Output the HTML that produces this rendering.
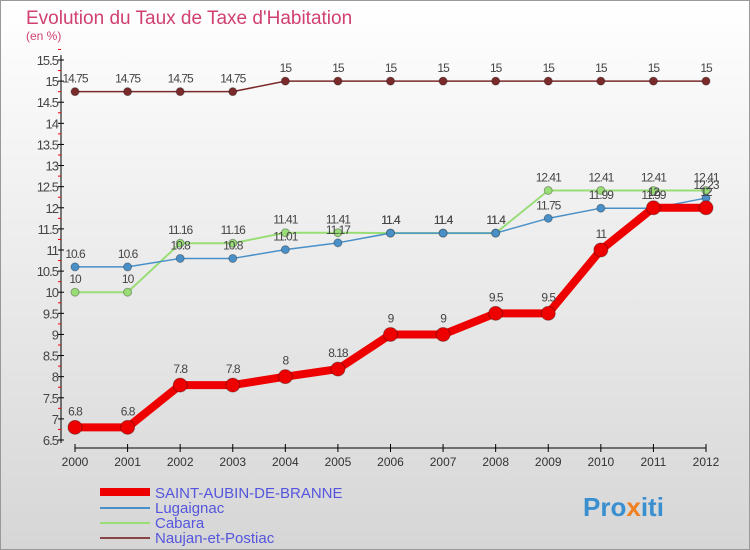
<!DOCTYPE html>
<html><head><meta charset="utf-8"><style>
body{margin:0}
svg{display:block;font-family:"Liberation Sans",sans-serif}
</style></head><body>
<svg id="c" width="750" height="550">
<defs><linearGradient id="bg" x1="0" y1="0" x2="0" y2="1"><stop offset="0" stop-color="#ffffff"/><stop offset="1" stop-color="#d6d6d6"/></linearGradient></defs>
<rect x="0.5" y="0.5" width="749" height="549" fill="url(#bg)" stroke="#999"/>
<text x="26" y="24" font-size="19" fill="#d04070">Evolution du Taux de Taxe d'Habitation</text>
<text x="26" y="40" font-size="12" fill="#d04070">(en %)</text>
<g id="axes"></g><g id="series"></g>
<g>
<line x1="100" y1="492" x2="150" y2="492" stroke="#ee0000" stroke-width="8"/>
<text x="155" y="498" font-size="15" fill="#5555dd">SAINT-AUBIN-DE-BRANNE</text>
<line x1="100" y1="508" x2="150" y2="508" stroke="#4a90c8" stroke-width="2"/>
<text x="155" y="513" font-size="15" fill="#5555dd">Lugaignac</text>
<line x1="100" y1="523" x2="150" y2="523" stroke="#99dd77" stroke-width="2"/>
<text x="155" y="528" font-size="15" fill="#5555dd">Cabara</text>
<line x1="100" y1="538" x2="150" y2="538" stroke="#884444" stroke-width="2"/>
<text x="155" y="543" font-size="15" fill="#5555dd">Naujan-et-Postiac</text>
</g>
<text x="583" y="516" font-size="26" font-weight="bold" fill="#3a8fd0">Pro<tspan fill="#f08020">x</tspan>iti</text>
</svg>
<script>
const years=[2000,2001,2002,2003,2004,2005,2006,2007,2008,2009,2010,2011,2012];
const naujan=[14.75,14.75,14.75,14.75,15,15,15,15,15,15,15,15,15];
const cabara=[10,10,11.16,11.16,11.41,11.41,11.4,11.4,11.4,12.41,12.41,12.41,12.41];
const lugaignac=[10.6,10.6,10.8,10.8,11.01,11.17,11.4,11.4,11.4,11.75,11.99,11.99,12.23];
const saint=[6.8,6.8,7.8,7.8,8,8.18,9,9,9.5,9.5,11,12,12];
const yTicks=[6.5,7,7.5,8,8.5,9,9.5,10,10.5,11,11.5,12,12.5,13,13.5,14,14.5,15,15.5];
const NS="http://www.w3.org/2000/svg";
const X=i=>75+i*(706-75)/(years.length-1);
const Y=v=>440-(v-6.5)*380/9;
function mk(p,t,a){const e=document.createElementNS(NS,t);for(const k in a)e.setAttribute(k,a[k]);p.appendChild(e);return e;}
const ax=document.getElementById('axes');
let yl=mk(ax,'line',{x1:61,y1:55,x2:61,y2:443,stroke:'#000'});


yTicks.forEach(v=>{
 mk(ax,'line',{x1:58,x2:64,y1:Y(v),y2:Y(v),stroke:'#000'});
 mk(ax,'line',{x1:58,x2:61,y1:Y(v+0.25),y2:Y(v+0.25),stroke:'#e00'});
 const t=mk(ax,'text',{x:58,y:Y(v)+5,'text-anchor':'end','font-size':13,fill:'#444','letter-spacing':'-1'});
 t.textContent=v;
 
 
});
let xl=mk(ax,'line',{x1:75,y1:448,x2:706,y2:448,stroke:'#000'});


years.forEach((y,i)=>{
 mk(ax,'line',{x1:X(i),x2:X(i),y1:444,y2:452,stroke:'#000'});
 const t=mk(ax,'text',{x:X(i),y:466,'text-anchor':'middle','font-size':12,fill:'#333'});
 t.textContent=y;
 
 
});
const sg=document.getElementById('series');
function series(vals,color,w,r,name,dy){
 const g=mk(sg,'g',{});
 
 
 mk(g,'polyline',{points:vals.map((v,i)=>X(i)+','+Y(v)).join(' '),fill:'none',stroke:color,'stroke-width':w,'stroke-linejoin':'round'});
 vals.forEach((v,i)=>{
  const c=mk(g,'circle',{cx:X(i),cy:Y(v),r:r,fill:color,stroke:'rgba(0,0,0,0.3)'});
  
  
  const t=mk(g,'text',{x:X(i),y:Y(v)+dy,'text-anchor':'middle','font-size':12,fill:'#444','letter-spacing':'-1'});
  t.textContent=v;
  
  
 });
}
series(naujan,'#7a2a2a',1.5,4,'series-naujan',-17+8);
series(cabara,'#99dd77',2,4,'series-cabara',-9);
series(lugaignac,'#4a90c8',1.5,4,'series-lugaignac',-9);
series(saint,'#ee0000',8,7,'series-saint-aubin',-12);
</script>
</body></html>
